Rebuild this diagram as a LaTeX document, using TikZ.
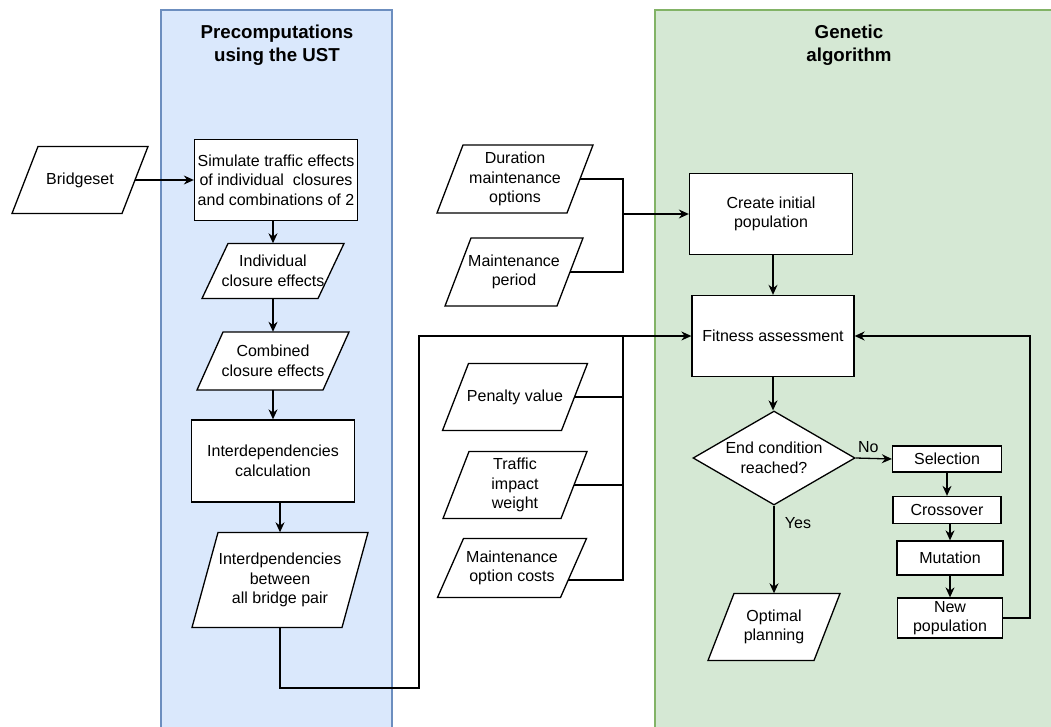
\documentclass[tikz,border=0pt]{standalone}
\usepackage{fontspec}
\setmainfont{Liberation Sans}
\usepackage{tikz}
\usetikzlibrary{arrows.meta,calc,shapes.geometric}
\definecolor{laneblue}{HTML}{DAE8FC}
\definecolor{laneblueline}{HTML}{6C8EBF}
\definecolor{lanegreen}{HTML}{D5E8D4}
\definecolor{lanegreenline}{HTML}{82B366}
% slanted data box: name, x, y, width, height, text
\newcommand{\dataslant}{26}
\newcommand{\datanode}[6]{%
  \draw[datashape] ({#2-#4/2},{#3+#5/2}) -- ({#2+#4/2-\dataslant},{#3+#5/2})
    -- ({#2+#4/2},{#3-#5/2}) -- ({#2-#4/2+\dataslant},{#3-#5/2}) -- cycle;
  \node[datatext, minimum width={#4pt-\dataslant pt}, minimum height=#5pt] (#1) at (#2,#3) {#6};}

\begin{document}
\begin{tikzpicture}[x=1pt,y=-1pt,
  every node/.style={font=\fontsize{16pt}{19.5pt}\selectfont},
  proc/.style={draw, fill=white, line width=1.3pt, align=center, inner sep=0pt},
  datashape/.style={draw, fill=white, line width=1.3pt},
  datatext/.style={align=center, inner sep=0pt},
  choice/.style={diamond, aspect=1.72, draw, fill=white, line width=1.3pt, align=center, inner sep=0pt},
  flow/.style={line width=1.3pt, -{Stealth[length=10pt,width=9pt]}},
  wire/.style={line width=1.3pt},
  lanetitle/.style={font=\fontsize{18.7pt}{23pt}\selectfont\bfseries, align=center}]
  \useasboundingbox (0,0) rectangle (1051,727);
  % swimlanes
  \draw[fill=laneblue, draw=laneblueline, line width=1.3pt] (161,10) rectangle (392,745);
  \draw[fill=lanegreen, draw=lanegreenline, line width=1.3pt] (655,10) rectangle (1065,745);
  \node[lanetitle] (pretitle) at (277,45) {Precomputations\\using the UST};
  \node[lanetitle] (gatitle) at (849,45) {Genetic\\algorithm};

  % precomputations
  \datanode{bridges}{80}{180}{136}{67}{Bridgeset}
  \node[proc, minimum width=163pt, minimum height=81pt] (simulate) at (276,180) {Simulate traffic effects\\of individual\ \ closures\\and combinations of 2};
  \datanode{single}{273}{271}{142}{55}{Individual\\closure effects}
  \datanode{combined}{273}{361}{152}{58}{Combined\\closure effects}
  \node[proc, minimum width=163pt, minimum height=82pt] (interdep) at (273,461) {Interdependencies\\calculation};
  \datanode{pairs}{280}{580}{176}{95}{Interdpendencies\\between\\all bridge pair}

  % inputs
  \datanode{duration}{515}{179}{156}{68}{Duration\\maintenance\\options}
  \datanode{period}{514}{272}{138}{68}{Maintenance\\period}
  \datanode{penalty}{515}{397}{145}{67}{Penalty value}
  \datanode{weight}{515}{485}{144}{67}{Traffic\\impact\\weight}
  \datanode{costs}{512}{568}{149}{59}{Maintenance\\option costs}

  % genetic algorithm
  \node[proc, minimum width=163pt, minimum height=81pt] (initpop) at (771,214) {Create initial\\population};
  \node[proc, minimum width=162pt, minimum height=81pt] (fitness) at (773,336) {Fitness assessment};
  \node[choice, minimum width=162pt, minimum height=94pt] (endcond) at (774,458) {End condition\\reached?};
  \datanode{optimal}{774}{627}{132}{67}{Optimal\\planning}
  \node[proc, minimum width=109pt, minimum height=26pt] (select) at (947,459) {Selection};
  \node[proc, minimum width=108pt, minimum height=27pt] (cross) at (947,510) {Crossover};
  \node[proc, minimum width=106pt, minimum height=34pt] (mutate) at (950,558) {Mutation};
  \node[proc, minimum width=105pt, minimum height=40pt] (newpop) at (950,618) {New\\population};

  \coordinate (detour) at (419,688);
  \coordinate (merge) at (623,214);
  \coordinate (collect) at (623,336);
  \coordinate (loopback) at (1030,336);

  \draw[flow] (bridges.east) -- (simulate.west);
  \draw[flow] (simulate.south -| single.north) -- (single.north);
  \draw[flow] (single.south) -- (combined.north);
  \draw[flow] (combined.south) -- (interdep.north);
  \draw[flow] (interdep.south -| pairs.north) -- (pairs.north);
  \draw[flow] (pairs.south) |- (detour) |- (fitness.west);

  \draw[wire] (duration.east) -| (merge);
  \draw[wire] (period.east) -| (merge);
  \draw[flow] (merge) -- (initpop.west);
  \draw[wire] (penalty.east) -- (penalty.east -| collect);
  \draw[wire] (weight.east) -- (weight.east -| collect);
  \draw[wire] ($(costs.east)+(-5.3,12)$) -| (collect);

  \draw[flow] (initpop.south -| fitness.north) -- (fitness.north);
  \draw[flow] (fitness.south) -- (fitness.south |- endcond.north);
  \draw[flow] (endcond.east) -- node[above=2pt, pos=0.35] {No} (select.west);
  \draw[flow] (endcond.south) -- node[right=7pt, pos=0.2] {Yes} (optimal.north);
  \draw[flow] (select.south) -- (cross.north);
  \draw[flow] (cross.south -| mutate.north) -- (mutate.north);
  \draw[flow] (mutate.south) -- (newpop.north);
  \draw[flow] (newpop.east) -| (loopback) -- (fitness.east);
\end{tikzpicture}
\end{document}
